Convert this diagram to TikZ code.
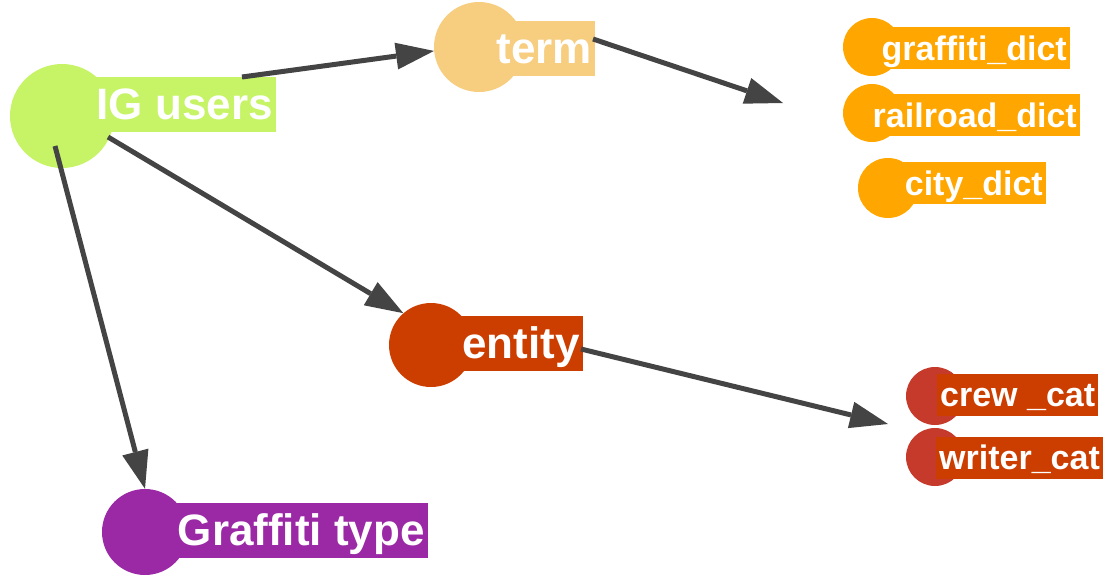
\documentclass[tikz,border=0pt]{standalone}
\usepackage{fontspec}
\setmainfont{Liberation Sans}
\definecolor{iglime}{RGB}{198, 244, 102}
\definecolor{termtan}{RGB}{247, 205, 127}
\definecolor{dictorange}{RGB}{255, 166, 0}
\definecolor{entityred}{RGB}{204, 61, 0}
\definecolor{catred}{RGB}{198, 58, 44}
\definecolor{typepurple}{RGB}{155, 41, 165}
\definecolor{edgegray}{RGB}{68, 68, 68}
\usepackage{tikz}
\usetikzlibrary{arrows.meta}

\begin{document}
\begin{tikzpicture}[x=1pt, y=-1pt,
  dot/.style={circle, fill=#1, inner sep=0pt},
  biglab/.style={fill=#1, text=white, font=\fontsize{44}{44}\selectfont\bfseries,
    inner xsep=3pt, inner ysep=0pt, text height=42.5pt, text depth=12.5pt},
  smalllab/.style={fill=#1, text=white, font=\fontsize{34}{34}\selectfont\bfseries,
    inner xsep=3pt, inner ysep=0pt, text height=33pt, text depth=9pt},
  edge/.style={draw=edgegray, line width=5pt,
    -{Triangle[length=38pt, width=27pt, line width=0pt]}}]
  \useasboundingbox (0,0) rectangle (1103,574);

  % Main nodes
  \node[dot=iglime, minimum size=104pt] (igc) at (62,116) {};
  \node[biglab=iglime, anchor=east] (iglab) at (276,104.5) {IG users};
  \node[dot=termtan, minimum size=90pt] (termc) at (479,47) {};
  \node[biglab=termtan, anchor=east] (termlab) at (595,48) {term};
  \node[dot=entityred, minimum size=84pt] (entc) at (431,345) {};
  \node[biglab=entityred, anchor=east] (entlab) at (583,343.5) {entity};
  \node[dot=typepurple, minimum size=86pt] (gtc) at (145,532) {};
  \node[biglab=typepurple, anchor=east] (gtlab) at (428,530.5) {Graffiti type};

  % Dictionaries
  \node[dot=dictorange, minimum size=58pt] (gdc) at (872,47) {};
  \node[smalllab=dictorange, anchor=east] (gdlab) at (1070,48) {graffiti\_dict};
  \node[dot=dictorange, minimum size=58pt] (rdc) at (872,113) {};
  \node[smalllab=dictorange, anchor=east] (rdlab) at (1080,115) {railroad\_dict};
  \node[dot=dictorange, minimum size=60pt] (cdc) at (888,188) {};
  \node[smalllab=dictorange, anchor=east] (cdlab) at (1046,183) {city\_dict};

  % Categories
  \node[dot=catred, minimum size=58pt] (crewc) at (935,396) {};
  \node[smalllab=entityred, anchor=west] (crewlab) at (937,394.5) {crew \_cat};
  \node[dot=catred, minimum size=58pt] (writc) at (935,457) {};
  \node[smalllab=entityred, anchor=west] (writlab) at (936,457.5) {writer\_cat};

  % Edges
  \coordinate (igA) at (242,77);
  \coordinate (igB) at (108,137);
  \coordinate (igC) at (55,146);
  \coordinate (termD) at (593,39);
  \coordinate (dictin) at (783,103);
  \coordinate (entE) at (581,349);
  \coordinate (catin) at (888,424);
  \draw[edge] (igA) -- (termc.185);
  \draw[edge] (igB) -- (entc.131);
  \draw[edge] (igC) -- (gtc.north);
  \draw[edge] (termD) -- (dictin);
  \draw[edge] (entE) -- (catin);
\end{tikzpicture}
\end{document}
